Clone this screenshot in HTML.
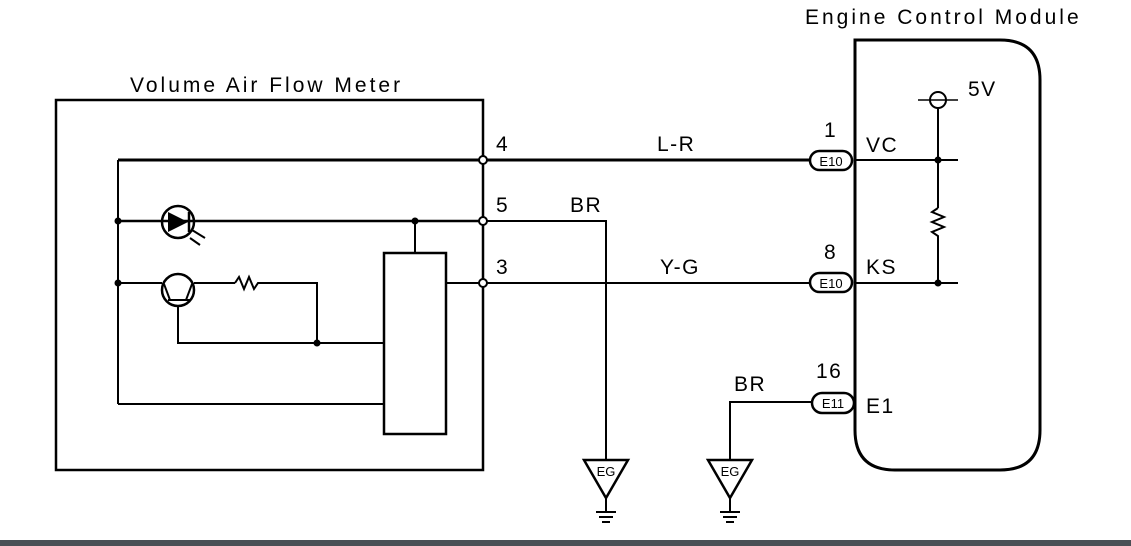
<!DOCTYPE html>
<html><head><meta charset="utf-8"><style>
html,body{margin:0;padding:0;background:#fff;width:1131px;height:546px;overflow:hidden}
svg text{font-family:"Liberation Sans",sans-serif;fill:#000}
</style></head><body>
<svg width="1131" height="546" viewBox="0 0 1131 546" xmlns="http://www.w3.org/2000/svg">
<g fill="none" stroke="#000" stroke-width="2">
<rect x="56" y="100" width="427" height="370" stroke-width="2.5"/>
<line x1="118" y1="160" x2="118" y2="404"/>
<line x1="118" y1="160" x2="483" y2="160" stroke-width="3"/>
<line x1="118" y1="221" x2="483" y2="221" stroke-width="2.5"/>
<line x1="415" y1="221" x2="415" y2="253"/>
<rect x="384" y="253" width="62" height="181" stroke-width="2.5"/>
<line x1="446" y1="283" x2="483" y2="283"/>
<line x1="118" y1="283" x2="162" y2="283"/>
<line x1="194" y1="283" x2="235" y2="283"/>
<polyline points="235,283 239,277 244,289 249,277 254,289 258,283 317,283 317,343"/>
<polyline points="178,305 178,343 384,343"/>
<line x1="118" y1="404" x2="384" y2="404"/>
<circle cx="178" cy="222" r="16" stroke-width="2.5"/>
<line x1="189" y1="212" x2="189" y2="232" stroke-width="2.5"/>
<line x1="192" y1="230" x2="205" y2="238"/>
<line x1="190" y1="238" x2="200" y2="245"/>
<circle cx="178" cy="290" r="16" stroke-width="2.5"/>
<line x1="168" y1="300" x2="190" y2="300"/>
<line x1="170" y1="300" x2="164" y2="284"/>
<line x1="186" y1="300" x2="192" y2="284"/>
<circle cx="483" cy="160" r="4" fill="#fff"/>
<circle cx="483" cy="221" r="4" fill="#fff"/>
<circle cx="483" cy="283" r="4" fill="#fff"/>
<line x1="487" y1="160" x2="810" y2="160" stroke-width="3"/>
<polyline points="487,221 606,221 606,460"/>
<line x1="487" y1="283" x2="810" y2="283"/>
<polyline points="730,460 730,402 812,402"/>
<polygon points="584,460 628,460 606,498" stroke-width="2.5"/>
<line x1="606" y1="498" x2="606" y2="512"/>
<line x1="596" y1="512" x2="616" y2="512"/>
<line x1="599" y1="517" x2="613" y2="517"/>
<line x1="602" y1="522" x2="610" y2="522"/>
<polygon points="708,460 752,460 730,498" stroke-width="2.5"/>
<line x1="730" y1="498" x2="730" y2="512"/>
<line x1="720" y1="512" x2="740" y2="512"/>
<line x1="723" y1="517" x2="737" y2="517"/>
<line x1="726" y1="522" x2="734" y2="522"/>
<path d="M855,40 H1000 Q1040,40 1040,80 V430 Q1040,470 1000,470 H895 Q855,470 855,430 Z" stroke-width="3"/>
<line x1="855" y1="160" x2="958" y2="160"/>
<line x1="855" y1="283" x2="958" y2="283"/>
<line x1="938" y1="108" x2="938" y2="208"/>
<polyline points="938,208 932,212 944,217 932,222 944,227 932,232 938,236 938,283"/>
<circle cx="938" cy="100" r="8"/>
<line x1="918" y1="100" x2="958" y2="100" stroke-width="1.5"/>
<rect x="810" y="151" width="42" height="19" rx="9.5" fill="#fff" stroke-width="2.5"/>
<rect x="810" y="273" width="42" height="19" rx="9.5" fill="#fff" stroke-width="2.5"/>
<rect x="812" y="393" width="42" height="20" rx="10" fill="#fff" stroke-width="2.5"/>
</g>
<g fill="#000">
<circle cx="118" cy="221" r="3.5"/><circle cx="118" cy="283" r="3.5"/>
<circle cx="415" cy="221" r="3.5"/><circle cx="317" cy="343" r="3.5"/>
<circle cx="938" cy="160" r="3.5"/><circle cx="938" cy="283" r="3.5"/>
<polygon points="168,212 168,232 188,222"/>
</g>
<text x="130" y="92" font-size="21" letter-spacing="3">Volume Air Flow Meter</text>
<text x="805" y="24" font-size="21" letter-spacing="3">Engine Control Module</text>
<g font-size="21" letter-spacing="1.5">
<text x="496" y="151">4</text><text x="496" y="212">5</text><text x="496" y="274">3</text>
<text x="657" y="151">L-R</text><text x="570" y="212">BR</text><text x="660" y="274">Y-G</text>
<text x="734" y="391">BR</text>
<text x="824" y="137">1</text><text x="824" y="259">8</text><text x="816" y="378">16</text>
<text x="866" y="152">VC</text><text x="866" y="274">KS</text><text x="866" y="413">E1</text>
<text x="968" y="96">5V</text>
</g>
<g font-size="13" text-anchor="middle">
<text x="831" y="166">E10</text><text x="831" y="288">E10</text><text x="833" y="408">E11</text>
<text x="606" y="476">EG</text><text x="730" y="476">EG</text>
</g>
<rect x="0" y="540" width="1131" height="6" fill="#4a4f55"/>
</svg>
</body></html>
